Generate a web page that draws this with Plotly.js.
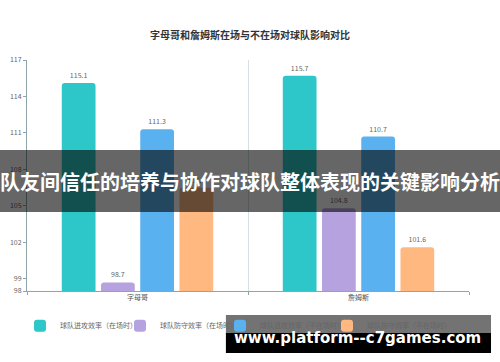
<!DOCTYPE html>
<html>
<head>
<meta charset="utf-8">
<script src="https://cdn.plot.ly/plotly-3.0.1.min.js"></script>
<style>html,body{margin:0;padding:0;background:#fff;}#chart{width:500px;height:362px;}</style>
</head>
<body>
<div id="chart"></div>
<script>
const categories = ["字母哥", "詹姆斯"];
const seriesNames = ["球队进攻效率（在场时）", "球队防守效率（在场时）", "球队进攻效率（不在场时）", "球队防守效率（不在场时）"];
const offenseOn = [115.1, 115.7];
const defenseOn = [98.7, 104.8];
const offenseOff = [111.3, 110.7];
const defenseOff = [106.5, 101.6];
const colors = ["#2ec7c9", "#b6a2de", "#5ab1ef", "#ffb980"];
const yTicks = [98, 99, 102, 105, 108, 111, 114, 117];
const yMin = 98, yMax = 117;
const titleText = "字母哥和詹姆斯在场与不在场对球队影响对比";
const bannerText = "队友间信任的培养与协作对球队整体表现的关键影响分析";
const watermarkText = "www.platform--c7games.com";

const seriesValues = [offenseOn, defenseOn, offenseOff, defenseOff];
const FONT = '"Noto Sans CJK SC", "Noto Sans", sans-serif';
const legendIds = ['legend', 'legend2', 'legend3', 'legend4'];
const legendX = [-0.0158, 0.2104, 0.4367, 0.6787];

const traces = seriesValues.map((vals, i) => ({
  type: 'bar',
  name: seriesNames[i],
  legend: legendIds[i],
  x: categories,
  y: vals.map(v => v - yMin),
  marker: {color: colors[i]},
  text: vals.map(v => v.toFixed(1)),
  textposition: 'outside',
  textfont: {size: 7, color: '#666', family: FONT},
  cliponaxis: false,
  hoverinfo: 'none'
}));

const layout = {
  width: 500, height: 362,
  margin: {l: 27, r: 31, t: 60, b: 71},
  paper_bgcolor: '#fff', plot_bgcolor: '#fff',
  font: {family: FONT, color: '#666'},
  title: {text: titleText, font: {size: 10, color: '#333', family: FONT, weight: 'bold'},
          x: 0.5, xanchor: 'center', y: 0.903, yanchor: 'middle', yref: 'container'},
  barmode: 'group', bargap: 0.29, bargroupgap: 0.14, barcornerradius: 3,
  showlegend: true,
  xaxis: {type: 'category', tickson: 'boundaries', showgrid: true, gridcolor: '#d6e0e2',
          showline: true, linecolor: '#8fa5a8', ticks: 'outside', ticklen: 3, tickcolor: '#8fa5a8',
          tickfont: {size: 7, color: '#555', family: FONT}, fixedrange: true},
  yaxis: {range: [0, yMax - yMin], tickvals: yTicks.map(v => v - yMin), ticktext: yTicks.map(String),
          showgrid: false, zeroline: false, showline: true, linecolor: '#8fa5a8',
          ticks: 'outside', ticklen: 3, tickcolor: '#8fa5a8',
          tickfont: {size: 7, color: '#666', family: FONT}, fixedrange: true},
  shapes: [
    {type: 'rect', xref: 'paper', yref: 'paper', x0: -0.07, x1: 1.08, y0: 0.342, y1: 0.6104,
     fillcolor: 'rgba(0,0,0,0.6)', line: {width: 0}, layer: 'above'},
    {type: 'rect', xref: 'paper', yref: 'paper', x0: 0.450, x1: 1.0498, y0: -0.1039, y1: -0.1818,
     fillcolor: 'rgba(0,0,0,0.55)', line: {width: 0}, layer: 'above'},
    {type: 'rect', xref: 'paper', yref: 'paper', x0: 0.450, x1: 1.0498, y0: -0.1818, y1: -0.2684,
     fillcolor: '#000', line: {width: 0}, layer: 'above'}
  ],
  annotations: [
    {text: bannerText, xref: 'paper', yref: 'paper', x: 0.5045, y: 0.476, showarrow: false,
     xanchor: 'center', yanchor: 'middle', font: {size: 20, color: '#fff', family: FONT, weight: 'bold'}},
    {text: watermarkText, xref: 'paper', yref: 'paper', x: 0.748, y: -0.2035, showarrow: false,
     xanchor: 'center', yanchor: 'middle', font: {size: 15, color: '#fff', family: '"DejaVu Sans", sans-serif', weight: 'bold'}}
  ]
};
legendIds.forEach((id, i) => {
  layout[id] = {orientation: 'h', x: legendX[i], xanchor: 'left', y: -0.15, yanchor: 'middle',
                bgcolor: 'rgba(0,0,0,0)', borderwidth: 0,
                font: {size: 7, color: '#666', family: FONT}};
});

Plotly.newPlot('chart', traces, layout, {displayModeBar: false, staticPlot: true});
</script>
</body>
</html>
